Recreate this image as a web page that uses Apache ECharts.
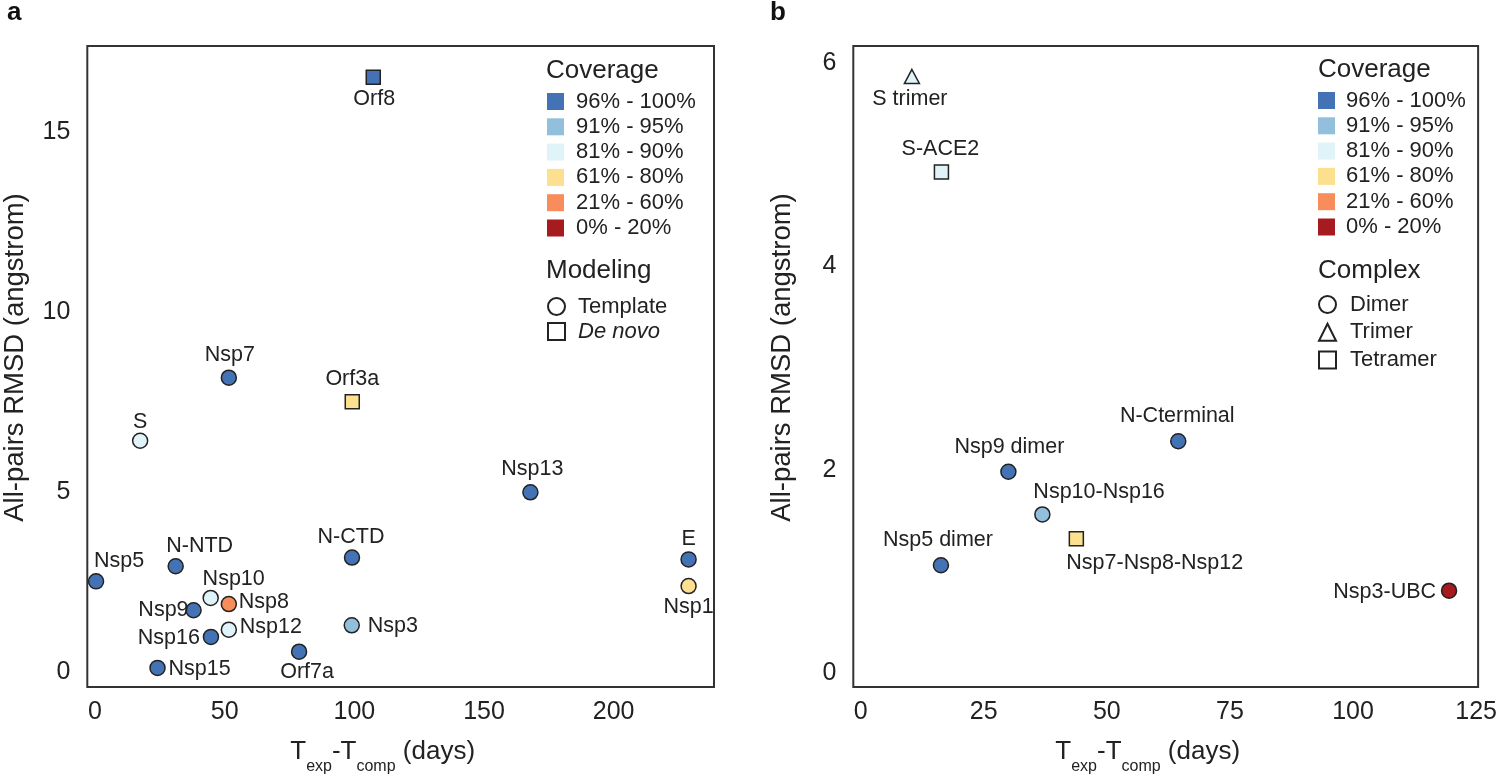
<!DOCTYPE html>
<html><head><meta charset="utf-8">
<script src="https://cdn.jsdelivr.net/npm/echarts@6/dist/echarts.min.js"></script>
<style>html,body{margin:0;padding:0;background:#fff}#c{width:1500px;height:780px}</style>
</head><body><div id="c"></div>
<script>
// ---------- Panel a data ----------
const namesA    = ['Orf8','Nsp7','Orf3a','S','Nsp13','N-NTD','N-CTD','E','Nsp1','Nsp5','Nsp10','Nsp8','Nsp9','Nsp3','Nsp12','Nsp16','Orf7a','Nsp15'];
const daysA     = [107.3, 51.6, 99.2, 17.4, 167.9, 31.1, 99.1, 228.9, 228.9, 0.4, 44.6, 51.6, 38.0, 99.0, 51.6, 44.7, 78.7, 24.1];
const rmsdA     = [16.51, 8.18, 7.51, 6.43, 5.00, 2.95, 3.19, 3.14, 2.40, 2.53, 2.07, 1.90, 1.73, 1.31, 1.19, 0.99, 0.58, 0.13];
const coverageA = ['96% - 100%','96% - 100%','61% - 80%','81% - 90%','96% - 100%','96% - 100%','96% - 100%','96% - 100%','61% - 80%','96% - 100%','81% - 90%','21% - 60%','96% - 100%','91% - 95%','81% - 90%','96% - 100%','96% - 100%','96% - 100%'];
const modelingA = ['De novo','Template','De novo','Template','Template','Template','Template','Template','Template','Template','Template','Template','Template','Template','Template','Template','Template','Template'];

// ---------- Panel b data ----------
const namesB    = ['S trimer','S-ACE2','N-Cterminal','Nsp9 dimer','Nsp10-Nsp16','Nsp7-Nsp8-Nsp12','Nsp5 dimer','Nsp3-UBC'];
const daysB     = [10.4, 16.4, 64.5, 30.0, 36.9, 43.8, 16.3, 119.5];
const rmsdB     = [5.87, 4.93, 2.28, 1.98, 1.56, 1.32, 1.06, 0.81];
const coverageB = ['81% - 90%','81% - 90%','96% - 100%','96% - 100%','91% - 95%','61% - 80%','96% - 100%','0% - 20%'];
const complexB  = ['Trimer','Tetramer','Dimer','Dimer','Dimer','Tetramer','Dimer','Dimer'];

// ---------- legend categories & ticks ----------
const coverageBins = ['96% - 100%','91% - 95%','81% - 90%','61% - 80%','21% - 60%','0% - 20%'];
const modelingTypes = ['Template','De novo'];
const complexTypes = ['Dimer','Trimer','Tetramer'];
const ticksAX = [0,50,100,150,200];
const ticksAY = [0,5,10,15];
const ticksBX = [0,25,50,75,100,125];
const ticksBY = [0,2,4,6];

// ---------- styles ----------
const FONT = "'Liberation Sans', Arial, sans-serif";
const INK = '#222';
const coverageColor = {
  '96% - 100%':'#4473b5','91% - 95%':'#92bfdc','81% - 90%':'#e0f3f8',
  '61% - 80%':'#fde08f','21% - 60%':'#f88d5b','0% - 20%':'#a51b20'
};
const shapeOf = {'Template':'circle','De novo':'rect','Dimer':'circle','Trimer':'triangle','Tetramer':'rect'};
const sizeOf = {circle:15, rect:14, triangle:[15,14]};
// label placement: [align, dx, dy] relative to the marker centre
const placeA = {
  'Orf8':['center',1,22],'Nsp7':['center',1,-23],'Orf3a':['center',0,-23],'S':['center',0,-19],
  'Nsp13':['center',2,-23],'N-NTD':['center',24,-20],'N-CTD':['center',-1,-20],'E':['center',0,-20],
  'Nsp1':['center',0,21],'Nsp5':['center',23,-20],'Nsp10':['center',23,-19],'Nsp8':['left',10,-2],
  'Nsp9':['right',-5,0],'Nsp3':['left',16,1],'Nsp12':['left',11,-3],'Nsp16':['right',-11,1],
  'Orf7a':['center',8,20],'Nsp15':['left',11,1]
};
const placeB = {
  'S trimer':['center',-2,23],'S-ACE2':['center',-1,-23],'N-Cterminal':['center',-1,-25],
  'Nsp9 dimer':['center',1,-25],'Nsp10-Nsp16':['left',-9,-22],'Nsp7-Nsp8-Nsp12':['left',-10,24],
  'Nsp5 dimer':['center',-3,-25],'Nsp3-UBC':['right',-13,1]
};

function buildSeries(names, xs, ys, cov, kind, kinds, place, gi) {
  return kinds.map(k => {
    const sym = shapeOf[k];
    const data = [];
    names.forEach((n, i) => {
      if (kind[i] !== k) return;
      const p = place[n];
      data.push({
        name: n, value: [xs[i], ys[i]],
        itemStyle: {color: coverageColor[cov[i]]},
        label: {show: true, position: 'inside', align: p[0], verticalAlign: 'middle', offset: [p[1], p[2]]}
      });
    });
    return {
      type: 'scatter', name: 'pts' + gi + k, xAxisIndex: gi, yAxisIndex: gi,
      symbol: sym, symbolSize: sizeOf[sym], data: data, z: 5,
      itemStyle: {borderColor: INK, borderWidth: 1.5, opacity: 1},
      label: {show: true, formatter: '{b}', fontSize: 21.5, color: INK, fontFamily: FONT},
      emphasis: {disabled: true}
    };
  });
}

// dummy series for legend entries
const legendSeries = [];
coverageBins.forEach(b => legendSeries.push({type:'scatter', name:b, data:[], xAxisIndex:0, yAxisIndex:0,
  itemStyle:{color: coverageColor[b], borderWidth:0, opacity:1}}));
modelingTypes.concat(complexTypes).forEach(t => legendSeries.push({type:'scatter', name:t, data:[], xAxisIndex:0, yAxisIndex:0,
  symbol: shapeOf[t], itemStyle:{color:'#fff', borderColor: INK, borderWidth:1.5, opacity:1}}));

function axisX(gi, min, max, ticks) {
  return {
    type:'value', gridIndex: gi, min: min, max: max,
    axisLine:{show:false}, axisTick:{show:false}, splitLine:{show:false},
    axisLabel:{customValues: ticks, fontSize: 25, color: INK, fontFamily: FONT, margin: 13},
    name: '{n|T}{s|exp}{n|-T}{s|comp}{n| (days)}', nameLocation:'middle', nameGap: 42,
    nameTextStyle:{fontFamily: FONT, color: INK, padding:[0,36,0,0], rich:{
      n:{fontSize: 26, fontFamily: FONT, color: INK, lineHeight: 46, verticalAlign:'middle'},
      s:{fontSize: 16, fontFamily: FONT, color: INK, lineHeight: 46, verticalAlign:'bottom'}
    }}
  };
}
function axisY(gi, min, max, ticks, gap) {
  return {
    type:'value', gridIndex: gi, min: min, max: max,
    axisLine:{show:false}, axisTick:{show:false}, splitLine:{show:false},
    axisLabel:{customValues: ticks, fontSize: 25, color: INK, fontFamily: FONT, margin: 17},
    name:'All-pairs RMSD (angstrom)', nameLocation:'middle', nameGap: gap, nameRotate: 90,
    nameTextStyle:{fontSize: 27.5, color: INK, fontFamily: FONT, padding:[0,0,0,18]}
  };
}

const legendText = {fontSize: 22, color: INK, fontFamily: FONT, lineHeight: 25};
const option = {
  animation: false,
  backgroundColor: '#fff',
  title: [
    {text:'a', left: 7, top: 0, padding: 0, textStyle:{fontSize: 26, fontWeight:'bold', color:'#111', fontFamily: FONT}},
    {text:'b', left: 770, top: 0, padding: 0, textStyle:{fontSize: 26, fontWeight:'bold', color:'#111', fontFamily: FONT}},
    {text:'Coverage', left: 546, top: 56, padding: 0, textStyle:{fontSize: 26, fontWeight:'normal', color: INK, fontFamily: FONT, lineHeight: 30}},
    {text:'Modeling', left: 546, top: 256, padding: 0, textStyle:{fontSize: 26, fontWeight:'normal', color: INK, fontFamily: FONT, lineHeight: 30}},
    {text:'Coverage', left: 1318, top: 55, padding: 0, textStyle:{fontSize: 26, fontWeight:'normal', color: INK, fontFamily: FONT, lineHeight: 30}},
    {text:'Complex', left: 1318, top: 256, padding: 0, textStyle:{fontSize: 26, fontWeight:'normal', color: INK, fontFamily: FONT, lineHeight: 30}}
  ],
  legend: [
    {orient:'vertical', left: 547, top: 89, padding: 0, itemWidth: 17, itemHeight: 17, itemGap: 0.3, selectedMode: false,
     textStyle: Object.assign({padding:[0,0,0,7]}, legendText),
     data: coverageBins.map(b => ({name: b, icon: 'rect'}))},
    {orient:'vertical', left: 547, top: 294, padding: 0, itemWidth: 17, itemHeight: 17, itemGap: 0, selectedMode: false,
     textStyle: Object.assign({padding:[0,0,0,8]}, legendText),
     data: [{name:'Template', icon:'circle'}, {name:'De novo', icon:'rect', textStyle:{fontStyle:'italic'}}]},
    {orient:'vertical', left: 1318, top: 88, padding: 0, itemWidth: 17, itemHeight: 17, itemGap: 0.3, selectedMode: false,
     textStyle: Object.assign({padding:[0,0,0,6]}, legendText),
     data: coverageBins.map(b => ({name: b, icon: 'rect'}))},
    {orient:'vertical', left: 1318, top: 292, padding: 0, itemWidth: 17, itemHeight: 17, itemGap: 2.8, selectedMode: false,
     textStyle: Object.assign({padding:[0,0,0,9]}, legendText),
     data: [{name:'Dimer', icon:'circle'}, {name:'Trimer', icon:'triangle'}, {name:'Tetramer', icon:'rect'}]}
  ],
  grid: [
    {left: 87.3, top: 46, width: 626.7, height: 641.3, show: true, borderColor: '#333', borderWidth: 2, backgroundColor: 'transparent'},
    {left: 853.3, top: 46, width: 626.7, height: 641.3, show: true, borderColor: '#333', borderWidth: 2, backgroundColor: 'transparent'}
  ],
  xAxis: [axisX(0, -2.98, 238.7, ticksAX), axisX(1, -1.5, 125.4, ticksBX)],
  yAxis: [axisY(0, -0.40, 17.38, ticksAY, 58), axisY(1, -0.138, 6.17, ticksBY, 57)],
  series: legendSeries
    .concat(buildSeries(namesA, daysA, rmsdA, coverageA, modelingA, modelingTypes, placeA, 0))
    .concat(buildSeries(namesB, daysB, rmsdB, coverageB, complexB, complexTypes, placeB, 1))
};
const chart = echarts.init(document.getElementById('c'), null, {renderer: 'canvas'});
chart.setOption(option);
</script></body></html>
